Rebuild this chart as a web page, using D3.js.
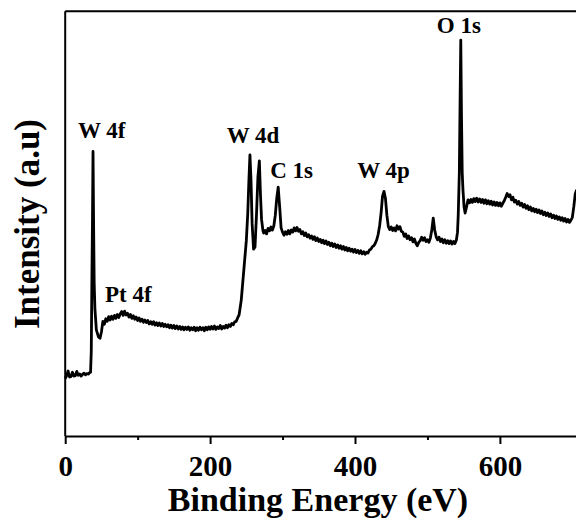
<!DOCTYPE html>
<html>
<head>
<meta charset="utf-8">
<script src="https://cdn.jsdelivr.net/npm/d3@7"></script>
<style>
  body { margin: 0; background: #fff; }
  svg { display: block; }
  text { font-family: "Liberation Serif", "Times New Roman", serif; font-weight: bold; fill: #000; }
</style>
</head>
<body>
<main></main>
<script>
const energy = [
  0, 2, 4, 6, 8, 10, 12, 14, 16, 18, 20, 22, 24, 26, 28, 30, 32, 34, 35,
  36, 36.8, 37.6, 38.4, 39.2, 40, 41, 43, 46, 48,
  50, 52, 54, 56, 58, 60, 62, 64, 66, 68, 70, 72, 74, 76, 78, 80, 82, 84, 86, 88,
  90, 92, 94, 96, 98, 100, 102, 104, 106, 108, 110, 112, 114, 116, 118, 120, 122, 124, 126, 128,
  130, 132, 134, 136, 138, 140, 142, 144, 146, 148, 150, 152, 154, 156, 158, 160, 162, 164, 166, 168,
  170, 172, 174, 176, 178, 180, 182, 184, 186, 188, 190, 192, 194, 196, 198, 200, 202, 204, 206, 208,
  210, 212, 214, 216, 218, 220, 222, 224, 226, 228, 230, 232, 234, 236, 238, 240,
  243, 246, 248, 250, 252, 253.5, 255, 256.5, 258, 260, 262, 264, 266, 268, 269.5, 271, 273,
  274, 276, 278, 280, 282, 284, 286, 288, 290, 292, 294, 296, 298,
  300, 302, 304, 306, 308, 310, 312, 314, 316, 318, 320, 322, 324, 326, 328,
  330, 332, 334, 336, 338, 340, 342, 344, 346, 348, 350, 352, 354, 356, 358,
  360, 362, 364, 366, 368, 370, 372, 374, 376, 378, 380, 382, 384, 386, 388,
  390, 392, 394, 396, 398, 400, 402, 404, 406, 408, 410, 412, 414, 416, 418,
  420, 422, 424, 426, 428, 430, 432, 434, 436, 438, 440, 442, 444, 446, 448,
  450, 452, 454, 456, 458, 460, 462, 464, 466, 468, 470, 472, 474, 476, 478,
  480, 482, 484, 486, 488, 490, 492, 494, 496, 498, 500, 502, 504, 506, 508,
  510, 512, 514, 516, 518, 520, 522, 524, 526, 528, 530, 532, 534, 536, 538,
  540, 541.5, 542.5, 544, 545, 546, 547, 548, 549, 550.5, 552, 554, 556, 558,
  560, 562, 564, 566, 568, 570, 572, 574, 576, 578, 580, 582, 584, 586, 588,
  590, 592, 594, 596, 598, 600, 602, 604, 606, 608, 610, 612, 614, 616, 618,
  620, 622, 624, 626, 628, 630, 632, 634, 636, 638, 640, 642, 644, 646, 648,
  650, 652, 654, 656, 658, 660, 662, 664, 666, 668, 670, 672, 674, 676, 678,
  680, 682, 684, 686, 688, 690, 692, 694, 696, 698, 700, 702, 704, 706
];
const intensity = [
  13.5, 14.2, 15.3, 13.9, 14.0, 15.0, 14.1, 14.2, 15.2, 14.3, 14.6, 14.1, 14.5, 14.8, 14.4, 14.7, 14.6, 15.0, 15.0,
  20, 36, 50, 67, 50, 36, 30, 25, 23.3, 23.0,
  24.5, 27.0, 26.3, 27.6, 27.0, 28.1, 27.3, 28.2, 27.5, 28.4, 27.7, 28.6, 27.9, 28.8, 29.3, 28.4, 29.4, 28.5, 28.9, 28.0,
  28.6, 27.7, 28.3, 27.5, 28.0, 27.2, 27.8, 27.0, 27.5, 26.8, 27.3, 26.7, 27.2, 26.4, 26.9, 26.3, 26.9, 26.1, 26.7, 26.0,
  26.6, 25.9, 26.5, 25.8, 26.3, 25.7, 26.2, 25.5, 26.1, 25.4, 26.0, 25.3, 25.9, 25.2, 25.8, 25.1, 25.7, 25.0, 25.6, 25.1,
  25.7, 24.9, 25.5, 25.0, 25.6, 24.8, 25.5, 24.9, 25.6, 25.0, 25.5, 24.8, 25.6, 25.0, 25.7, 25.1, 25.8, 25.2, 25.9, 25.1,
  25.7, 25.3, 26.0, 25.2, 25.8, 25.4, 26.1, 25.5, 26.2, 25.8, 26.5, 26.2, 26.9, 27.0, 27.8, 28.5,
  32, 38, 42, 46, 52.5, 60, 66.2, 60, 50, 44, 44.5, 52, 61, 64.8, 57, 51, 48.3,
  47.8, 48.4, 47.6, 48.9, 48.3, 49.2, 48.5, 49.5, 52, 56, 58.6, 54, 49,
  48.0, 47.3, 48.1, 47.5, 48.4, 47.6, 48.5, 48.0, 49.0, 48.3, 49.1, 48.2, 48.6, 47.6, 48.1,
  47.2, 47.8, 46.9, 47.4, 46.6, 47.1, 46.3, 46.9, 46.0, 46.6, 45.8, 46.3, 45.5, 46.1, 45.3,
  45.9, 45.1, 45.6, 44.8, 45.4, 44.6, 45.2, 44.4, 45.0, 44.2, 44.8, 44.0, 44.6, 43.8, 44.4,
  43.6, 44.2, 43.5, 44.0, 43.3, 43.9, 43.2, 43.7, 43.0, 43.6, 42.9, 43.4, 42.8, 43.3, 43.1,
  43.8, 44.0, 44.6, 44.8, 45.4, 46.2, 47.5, 49.5, 52.5, 56.5, 57.6, 56, 52, 49.3, 48.6,
  49.2, 48.4, 49.0, 48.3, 49.5, 48.7, 49.3, 48.2, 48.0, 47.0, 47.6, 46.5, 47.1, 46.2, 46.7,
  45.7, 46.4, 45.4, 44.8, 45.6, 46.0, 46.8, 46.1, 46.7, 45.8, 46.2, 45.6, 46.6, 48.5, 51.3,
  48.5, 46.9, 46.2, 46.8, 45.8, 46.4, 45.5, 46.2, 45.4, 46.0, 45.3, 45.9, 45.2, 45.8, 45.3,
  46.2, 48, 52, 62, 78, 93.2, 75, 62, 58, 54, 52.5, 54, 55.6, 54.9,
  55.7, 55.0, 55.9, 55.2, 56.0, 55.1, 55.8, 55.0, 55.7, 54.8, 55.6, 54.7, 55.4, 54.6, 55.3,
  54.4, 55.1, 54.3, 55.0, 54.2, 54.9, 54.1, 54.8, 55.4, 56.2, 57.1, 56.4, 56.8, 55.6, 56.2,
  55.1, 55.5, 54.6, 55.2, 54.3, 54.8, 53.9, 54.5, 53.6, 54.2, 53.3, 53.9, 53.0, 53.6, 52.8,
  53.4, 52.6, 53.2, 52.4, 53.0, 52.1, 52.7, 51.9, 52.5, 51.7, 52.3, 51.4, 52.0, 51.2, 51.8,
  51.0, 51.6, 50.8, 51.4, 50.6, 51.2, 50.4, 51.0, 50.3, 50.8, 51.5, 54, 57, 58
];

const peakNames = ["W 4f", "Pt 4f", "W 4d", "C 1s", "W 4p", "O 1s"];
const peakLabelEnergy = [17.6, 55, 223, 283, 403, 513];
const peakLabelIntensity = [70.2, 31.6, 69.0, 60.7, 60.7, 94.9];

const xTicks = [0, 200, 400, 600];
const xMinorTicks = [100, 300, 500];

const drawChart = () => {
    const width = 576, height = 522;
    const left = 65.2, top = 11.3, bottom = 436;

    const svg = d3.select("main").append("svg")
        .attr("width", width)
        .attr("height", height)
        .style("background", "#fff");

    const xScale = d3.scaleLinear().domain([0, 720]).range([left, left + 0.7245 * 720]);
    const yScale = d3.scaleLinear().domain([0, 100]).range([bottom, top]);

    // frame: top border and left axis (no ticks)
    svg.append("line")
        .attr("x1", left).attr("x2", width + 10)
        .attr("y1", top).attr("y2", top)
        .attr("stroke", "#000").attr("stroke-width", 2);
    svg.append("line")
        .attr("x1", left).attr("x2", left)
        .attr("y1", top).attr("y2", bottom)
        .attr("stroke", "#000").attr("stroke-width", 2);

    // minor ticks first, then the major axis on top
    svg.append("g")
        .attr("transform", "translate(0," + bottom + ")")
        .call(d3.axisBottom(xScale).tickValues(xMinorTicks).tickSize(4).tickSizeOuter(0).tickFormat(""))
        .call(g => g.select(".domain").remove())
        .call(g => g.selectAll("line").attr("stroke", "#000").attr("stroke-width", 2));

    const xAxis = svg.append("g")
        .attr("transform", "translate(0," + bottom + ")")
        .call(d3.axisBottom(xScale).tickValues(xTicks).tickSize(8).tickSizeOuter(0).tickFormat(d3.format("d")));
    xAxis.select(".domain").attr("stroke", "#000").attr("stroke-width", 2);
    xAxis.selectAll("line").attr("stroke", "#000").attr("stroke-width", 2);
    xAxis.selectAll("text")
        .attr("y", 40).attr("dy", 0)
        .style("font-family", "'Liberation Serif', serif")
        .style("font-weight", "bold")
        .style("font-size", "29px")
        .attr("fill", "#000");

    // spectrum
    const line = d3.line()
        .x((d, i) => xScale(energy[i]))
        .y((d, i) => yScale(intensity[i]));

    svg.append("path")
        .datum(energy)
        .attr("fill", "none")
        .attr("stroke", "#000")
        .attr("stroke-width", 2.8)
        .attr("stroke-linejoin", "round")
        .attr("d", line);

    // peak labels
    svg.selectAll(".peak")
        .data(peakNames)
        .enter()
        .append("text")
        .attr("class", "peak")
        .attr("x", (d, i) => xScale(peakLabelEnergy[i]))
        .attr("y", (d, i) => yScale(peakLabelIntensity[i]))
        .style("font-size", "23px")
        .text(d => d);

    // axis titles
    svg.append("text")
        .attr("x", 318)
        .attr("y", 511)
        .attr("text-anchor", "middle")
        .style("font-size", "34px")
        .text("Binding Energy (eV)");

    svg.append("text")
        .attr("transform", "translate(39,224) rotate(-90)")
        .attr("text-anchor", "middle")
        .style("font-size", "35px")
        .text("Intensity (a.u)");
};

drawChart();
</script>
</body>
</html>
